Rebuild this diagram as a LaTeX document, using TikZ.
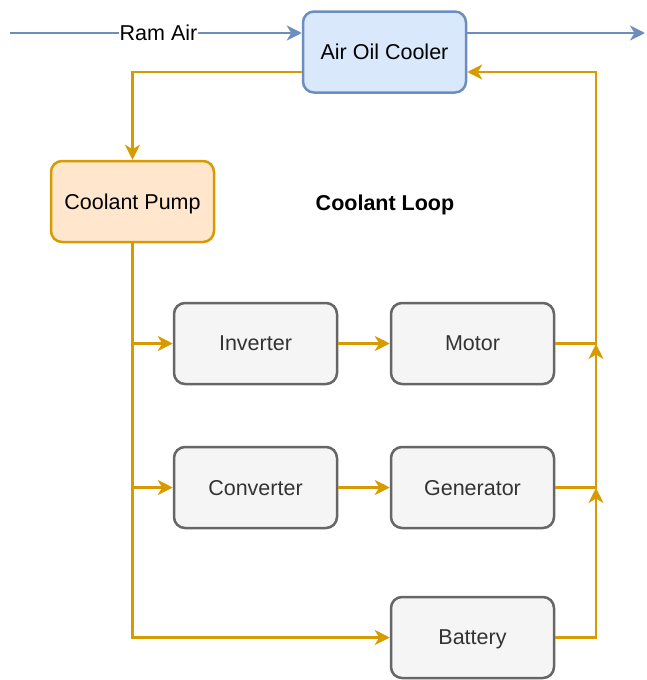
\documentclass[tikz,border=0pt]{standalone}
\usepackage{fontspec}
\setmainfont{Liberation Sans}
\usetikzlibrary{arrows.meta}
\definecolor{bluestroke}{HTML}{6C8EBF}
\definecolor{bluefill}{HTML}{DAE8FC}
\definecolor{orstroke}{HTML}{D79B00}
\definecolor{orfill}{HTML}{FFE6CC}
\definecolor{graystroke}{HTML}{666666}
\definecolor{grayfill}{HTML}{F5F5F5}
\definecolor{graytext}{HTML}{333333}
\tikzset{
  lbl/.style={font=\fontsize{21.5}{25}\selectfont},
  box/.style={draw, rounded corners=11pt, line width=2.5pt, minimum width=163pt, minimum height=81pt,
    inner sep=0pt, lbl, text depth=0pt},
  graybox/.style={box, draw=graystroke, fill=grayfill, text=graytext},
  bluebox/.style={box, draw=bluestroke, fill=bluefill, text=black},
  orbox/.style={box, draw=orstroke, fill=orfill, text=black},
  tip/.style={-{Stealth[length=15pt,width=15pt,inset=4.5pt]}},
  oline/.style={draw=orstroke, line width=2.5pt, tip},
  bline/.style={draw=bluestroke, line width=2.5pt, tip},
}
\begin{document}
\begin{tikzpicture}[x=1pt,y=-1pt]
\useasboundingbox (0,0) rectangle (646,680);
\node[bluebox] (cooler) at (384.5,52) {Air Oil Cooler};
\node[orbox] (pump) at (132.5,201.5) {Coolant Pump};
\node[graybox] (inv) at (255.5,343.5) {Inverter};
\node[graybox] (mot) at (472.5,343.5) {Motor};
\node[graybox] (conv) at (255.5,487.5) {Converter};
\node[graybox] (gen) at (472.5,487.5) {Generator};
\node[graybox] (bat) at (472.5,637.5) {Battery};
\node[font=\fontsize{21.5}{25}\selectfont\bfseries, text depth=0pt] (loop) at (385,203) {Coolant Loop};

\coordinate (ramin) at (10,33);
\coordinate (ramout) at (645,33);
\coordinate (j1) at (596,344);
\coordinate (j2) at (596,488);
\coordinate (back) at (596,72);
\coordinate (fwd) at (132,72);

% air
\draw[bline] (ramin) -- (ramin -| cooler.west) node[pos=0.509, fill=white, inner sep=1pt, text=black, lbl, text depth=0pt] (ramlbl) {Ram Air};
\draw[bline] (ramout -| cooler.east) -- (ramout);

% coolant
\draw[oline] (fwd -| cooler.west) -| (pump.north);
\draw[oline] (pump.south) |- (inv.west);
\draw[oline] (pump.south) |- (conv.west);
\draw[oline] (pump.south) |- (bat.west);
\draw[oline] (inv) -- (mot);
\draw[oline] (conv) -- (gen);
\draw[oline] (mot.east) -| (back) -- (back -| cooler.east);
\draw[oline] (gen.east) -| (j1);
\draw[oline] (bat.east) -| (j2);
\end{tikzpicture}
\end{document}
